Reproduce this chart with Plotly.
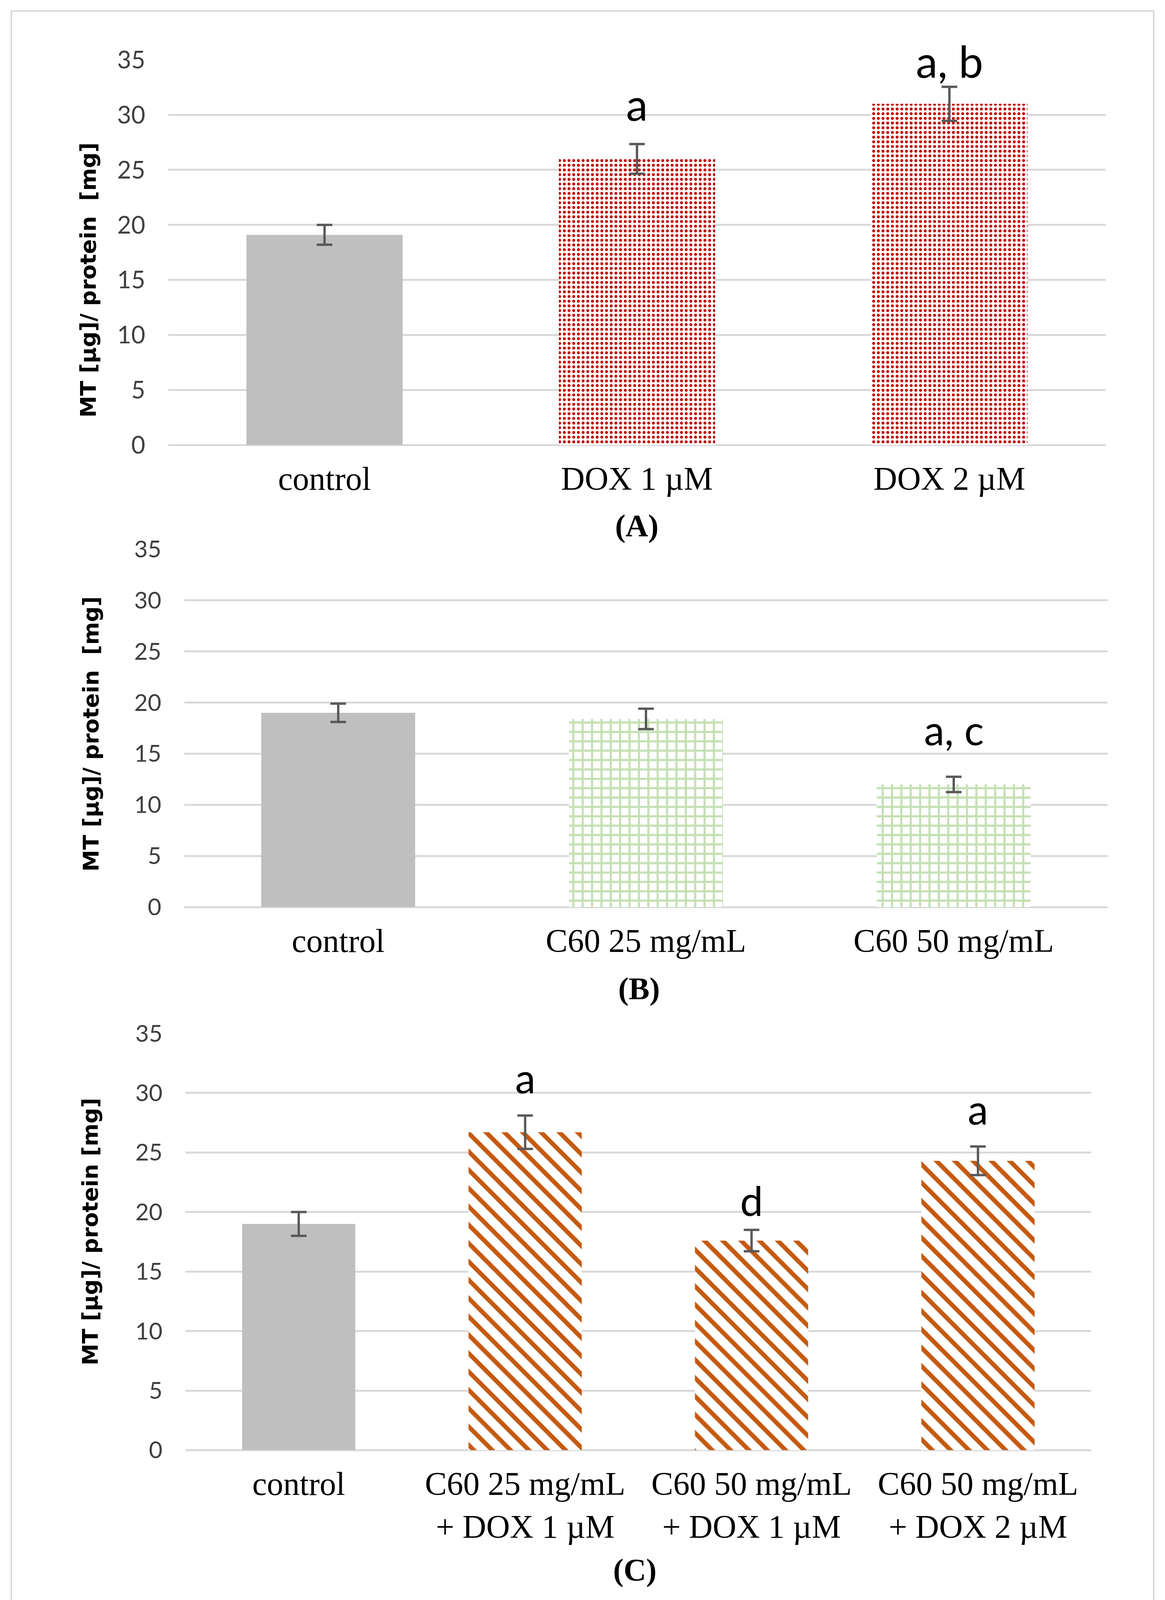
import plotly.graph_objects as go

# page/figure geometry (reference picture is 2983 x 4264; body margin 8px;
# the photographed page starts a little lower than the window top, SY compensates)
PAGE_W, PAGE_H = 2983, 4264
OX, OY, SY = 8, 8, 38
W, H = PAGE_W - 2 * OX, PAGE_H - 2 * OY - SY

# ---------------- data ----------------
cat_a = ["control", "DOX 1 µM", "DOX 2 µM"]
mt_a = [19.1, 26.0, 31.0]
err_a = [0.9, 1.35, 1.55]
sig_a = ["", "a", "a, b"]
sig_a_y = [None, 31.0, 34.9]

cat_b = ["control", "C60 25 mg/mL", "C60 50 mg/mL"]
mt_b = [19.0, 18.4, 12.0]
err_b = [0.9, 1.0, 0.75]
sig_b = ["", "", "a, c"]
sig_b_y = [None, None, 17.4]

cat_c = ["control", "C60 25 mg/mL<br>+ DOX 1 µM", "C60 50 mg/mL<br>+ DOX 1 µM",
         "C60 50 mg/mL<br>+ DOX 2 µM"]
mt_c = [19.0, 26.7, 17.6, 24.3]
err_c = [1.0, 1.4, 0.9, 1.2]
sig_c = ["", "a", "d", "a"]
sig_c_y = [None, 31.3, 21.0, 28.7]

y_ticks = [0, 5, 10, 15, 20, 25, 30, 35]
panel_labels = ["(A)", "(B)", "(C)"]
y_titles = ["MT [µg]/ protein  [mg]", "MT [µg]/ protein  [mg]", "MT [µg]/ protein [mg]"]

# ---------------- style ----------------
GREY = "#bfbfbf"
RED = "#c00000"
GREEN = "#c5e0b4"
ORANGE = "#c55a11"
GRID = "#d9d9d9"
ERR = "#595959"


def fx(p):
    return (p - OX) / W


def fy(p):
    return 1 - (p - OY - SY) / H


def px_x(a, b):
    return [fx(a), fx(b)]


def px_y(top, bottom):
    return [fy(bottom), fy(top)]


def err(arr):
    return dict(type="data", array=arr, visible=True, color=ERR, thickness=6, width=20)


fig = go.Figure()

panels = [
    (cat_a, mt_a, err_a, "x", "y", dict(shape=".", fgcolor=RED, bgcolor="white",
                                         fgopacity=1, fillmode="replace",
                                         size=12, solidity=0.3)),
    (cat_b, mt_b, err_b, "x2", "y2", dict(shape="+", fgcolor=GREEN, bgcolor="white",
                                           fgopacity=1, fillmode="replace",
                                           size=24, solidity=0.4)),
    (cat_c, mt_c, err_c, "x3", "y3", dict(shape="\\", fgcolor=ORANGE, bgcolor="white",
                                           fgopacity=1, fillmode="replace",
                                           size=33.2, solidity=0.34)),
]

for cats, vals, errs, xa, ya, pat in panels:
    # control bar (solid grey)
    fig.add_trace(go.Bar(x=cats[:1], y=vals[:1], error_y=err(errs[:1]), xaxis=xa, yaxis=ya,
                         marker=dict(color=GREY, opacity=1, line=dict(width=0)),
                         opacity=1, showlegend=False))
    # treatment bars (patterned)
    fig.add_trace(go.Bar(x=cats[1:], y=vals[1:], error_y=err(errs[1:]), xaxis=xa, yaxis=ya,
                         marker=dict(color="white", opacity=1, line=dict(width=0), pattern=pat),
                         opacity=1, showlegend=False))


def xaxis(domain, anchor, cats, size):
    return dict(domain=domain, anchor=anchor, showgrid=False, zeroline=False, showline=False,
                ticks="", ticklabelstandoff=30, categoryorder="array", categoryarray=cats,
                tickfont=dict(family="Liberation Serif", size=size, color="#000000"),
                fixedrange=True)


def yaxis(domain, anchor, tsize):
    return dict(domain=domain, anchor=anchor, range=[0, 35], tickvals=y_ticks,
                showgrid=True, gridcolor=GRID, gridwidth=5,
                zeroline=True, zerolinecolor=GRID, zerolinewidth=5,
                showline=False, ticks="", ticklabelstandoff=58,
                tickfont=dict(family="Lato", size=tsize, color="#404040"),
                fixedrange=True)


layout = dict(
    width=W, height=H, margin=dict(l=0, r=0, t=0, b=0),
    paper_bgcolor="white", plot_bgcolor="white",
    barmode="overlay", bargap=0.5,
    xaxis=xaxis(px_x(431, 2831), "y", cat_a, 84),
    yaxis=yaxis(px_y(154, 1158), "x", 62),
    xaxis2=xaxis(px_x(472, 2836), "y2", cat_b, 84),
    yaxis2=yaxis(px_y(1429, 2362), "x2", 60),
    xaxis3=xaxis(px_x(475, 2794), "y3", cat_c, 84),
    yaxis3=yaxis(px_y(2691, 3777), "x3", 60),
)

annotations = []
for cats, sigs, ys, xr, yr, fs in [
        (cat_a, sig_a, sig_a_y, "x", "y", 112),
        (cat_b, sig_b, sig_b_y, "x2", "y2", 105),
        (cat_c, sig_c, sig_c_y, "x3", "y3", 105)]:
    for c, s, yy in zip(cats, sigs, ys):
        if s:
            annotations.append(dict(x=c, y=yy, xref=xr, yref=yr, text=s, showarrow=False,
                                    xanchor="center", yanchor="middle",
                                    font=dict(family="Lato", size=fs, color="#000000")))

# y-axis titles (rotated)
for t, cx, cy in zip(y_titles, [225, 232, 230], [728, 1911, 3208]):
    annotations.append(dict(x=fx(cx), y=fy(cy), xref="paper", yref="paper", text=t,
                            textangle=-90, showarrow=False, xanchor="center", yanchor="middle",
                            font=dict(family="DejaVu Sans", size=56, color="#000000",
                                      weight="bold")))

# panel labels
for lab, cx, cy in zip(panel_labels, [1631, 1636, 1625], [1369, 2575, 4090]):
    annotations.append(dict(x=fx(cx), y=fy(cy), xref="paper", yref="paper", text=lab,
                            showarrow=False, xanchor="center", yanchor="middle",
                            font=dict(family="Liberation Serif", size=80, color="#000000",
                                      weight="bold")))
layout["annotations"] = annotations

layout["shapes"] = [dict(type="rect", xref="paper", yref="paper",
                         x0=fx(29), x1=fx(2954), y0=fy(4217), y1=fy(27),
                         line=dict(color=GRID, width=4), fillcolor="rgba(0,0,0,0)")]

fig.update_layout(**layout)
fig.write_html("out.html")
